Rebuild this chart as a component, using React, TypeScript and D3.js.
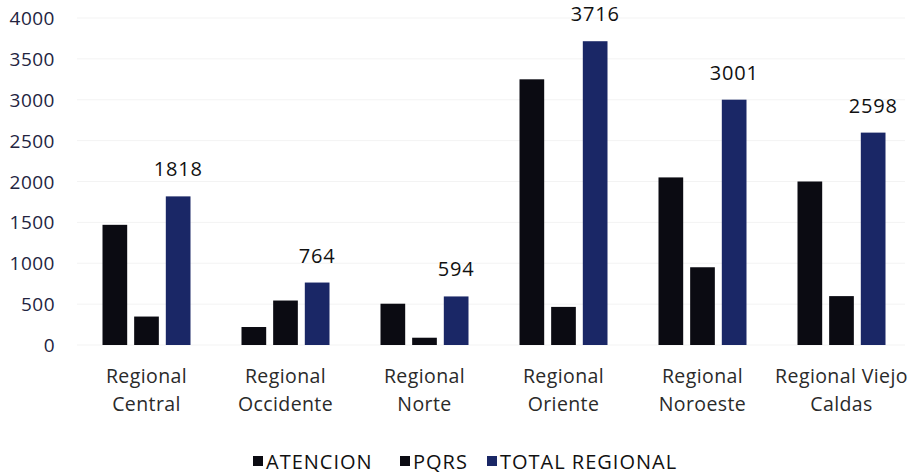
import React from "react";
import * as d3 from "d3";

const categories: string[][] = [
  ["Regional", "Central"],
  ["Regional", "Occidente"],
  ["Regional", "Norte"],
  ["Regional", "Oriente"],
  ["Regional", "Noroeste"],
  ["Regional Viejo", "Caldas"],
];
const atencion = [1470, 220, 505, 3250, 2050, 2000];
const pqrs = [348, 544, 89, 466, 951, 598];
const totalRegional = [1818, 764, 594, 3716, 3001, 2598];
const yTicks = [0, 500, 1000, 1500, 2000, 2500, 3000, 3500, 4000];
const seriesNames = ["ATENCION", "PQRS", "TOTAL REGIONAL"];
const seriesColors = ["#0b0b12", "#0b0b12", "#1a2766"];

const W = 910;
const H = 473;
const FONT = "'Open Sans', Lato, sans-serif";

export default function App() {
  const x = d3
    .scaleBand<number>()
    .domain(categories.map((_, i) => i))
    .range([77, 911])
    .paddingInner(0)
    .paddingOuter(0);
  const y = d3.scaleLinear().domain([0, 4000]).range([345, 18]);
  const series = [atencion, pqrs, totalRegional];
  const inner = d3
    .scaleBand<number>()
    .domain([0, 1, 2])
    .range([0, 88])
    .paddingInner(0.22);
  const groupOffset = (x.bandwidth() - 88) / 2;

  const legendX = [253, 400, 487];

  return (
    <svg
      width={W}
      height={H}
      style={{ position: "absolute", left: 0, top: 0, background: "#fff" }}
      fontFamily={FONT}
    >
      {yTicks.map((t) => (
        <g key={t}>
          <line
            x1={77}
            x2={905}
            y1={y(t)}
            y2={y(t)}
            stroke="#f3f3f3"
            strokeWidth={1}
          />
          <text
            x={55}
            y={y(t)}
            textAnchor="end"
            dominantBaseline="central"
            fontSize={19}
            letterSpacing={0.5}
            fill="#23243f"
          >
            {t}
          </text>
        </g>
      ))}
      {categories.map((cat, i) => (
        <g key={i} transform={`translate(${(x(i) ?? 0) + groupOffset},0)`}>
          {series.map((s, k) => (
            <rect
              key={k}
              x={inner(k)}
              y={y(s[i])}
              width={inner.bandwidth()}
              height={y(0) - y(s[i])}
              fill={seriesColors[k]}
            />
          ))}
          <text
            x={(inner(2) ?? 0) + inner.bandwidth() / 2}
            y={y(totalRegional[i]) - 20}
            textAnchor="middle"
            fontSize={20}
            letterSpacing={0.8}
            fill="#111"
          >
            {totalRegional[i]}
          </text>
        </g>
      ))}
      {categories.map((cat, i) => (
        <text
          key={i}
          x={(x(i) ?? 0) + x.bandwidth() / 2}
          textAnchor="middle"
          fontSize={19.5}
          letterSpacing={0.4}
          fill="#2a2a2a"
        >
          {cat.map((line, j) => (
            <tspan key={j} x={(x(i) ?? 0) + x.bandwidth() / 2} y={383 + j * 28}>
              {line}
            </tspan>
          ))}
        </text>
      ))}
      {seriesNames.map((name, k) => (
        <g key={name}>
          <rect
            x={legendX[k]}
            y={456}
            width={10}
            height={10}
            fill={seriesColors[k]}
          />
          <text
            x={legendX[k] + 13}
            y={461}
            dominantBaseline="central"
            fontSize={20}
            letterSpacing={1}
            fill="#111"
          >
            {name}
          </text>
        </g>
      ))}
    </svg>
  );
}
